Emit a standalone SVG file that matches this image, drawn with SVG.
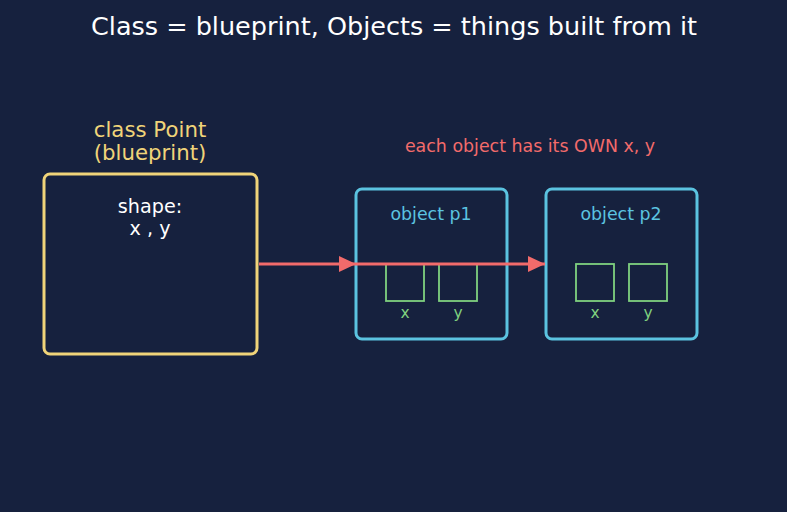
<svg xmlns="http://www.w3.org/2000/svg" width="787" height="512" viewBox="0 0 787 512">
<style>
text{font-family:"DejaVu Sans","Liberation Sans",sans-serif;text-anchor:middle}
.title{font-size:25.5px;fill:#ffffff}
.cls{fill:none;stroke:#f0d479;stroke-width:3}
.clsl{font-size:21.3px;fill:#f0d479}
.wt{font-size:19.2px;fill:#ffffff}
.obj{fill:none;stroke:#5bc3e0;stroke-width:3}
.objl{font-size:17.4px;fill:#5bc3e0}
.fld{fill:none;stroke:#7fd17f;stroke-width:1.8}
.fldl{font-size:15.5px;fill:#7fd17f}
.note{font-size:17.4px;fill:#f26b6b}
.conn{stroke:#f26b6b;stroke-width:3;fill:none}
</style>
<defs>
<marker id="ah" viewBox="0 0 10 10" refX="10" refY="5" markerWidth="17" markerHeight="16" markerUnits="userSpaceOnUse" orient="auto" preserveAspectRatio="none">
<path d="M0,0 L10,5 L0,10 z" fill="#f26b6b"/>
</marker>
</defs>
<rect width="787" height="512" fill="#16213e"/>
<text class="title" x="394" y="35">Class = blueprint, Objects = things built from it</text>
<g id="class-point">
<text class="clsl" x="150" y="137">class Point</text>
<text class="clsl" x="150" y="160">(blueprint)</text>
<rect class="cls" x="44" y="174" width="213" height="180" rx="6"/>
<text class="wt" x="150" y="213">shape:</text>
<text class="wt" x="150" y="235">x , y</text>
</g>
<g id="note">
<text class="note" x="530" y="152">each object has its OWN x, y</text>
</g>
<g id="object-p1">
<rect class="obj" x="356" y="189" width="151" height="150" rx="6"/>
<text class="objl" x="431" y="220">object p1</text>
<rect class="fld" x="386" y="264" width="38" height="37"/>
<rect class="fld" x="439" y="264" width="38" height="37"/>
<text class="fldl" x="405" y="318">x</text>
<text class="fldl" x="458" y="318">y</text>
</g>
<g id="object-p2">
<rect class="obj" x="546" y="189" width="151" height="150" rx="6"/>
<text class="objl" x="621" y="220">object p2</text>
<rect class="fld" x="576" y="264" width="38" height="37"/>
<rect class="fld" x="629" y="264" width="38" height="37"/>
<text class="fldl" x="595" y="318">x</text>
<text class="fldl" x="648" y="318">y</text>
</g>
<g id="connectors">
<line class="conn" x1="259" y1="264" x2="356" y2="264" marker-end="url(#ah)"/>
<line class="conn" x1="356" y1="264" x2="545" y2="264" marker-end="url(#ah)"/>
</g>
</svg>
